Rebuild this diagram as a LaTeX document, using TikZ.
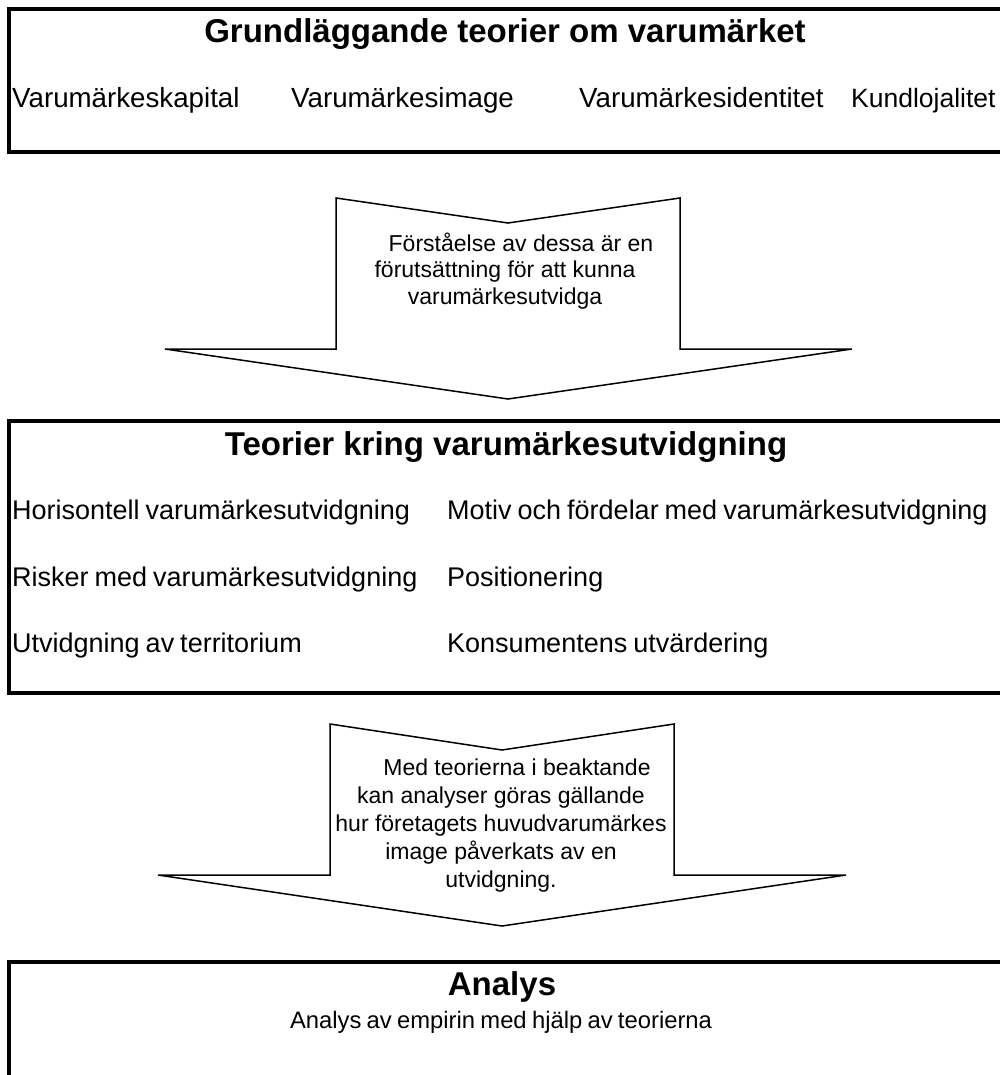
\documentclass[tikz,border=0pt]{standalone}
\usepackage{fontspec}
\setmainfont{Liberation Sans}
\newfontfamily\tightsans[WordSpace=0.8]{Liberation Sans}
\begin{document}
\begin{tikzpicture}[x=1pt, y=-1pt, every node/.style={inner sep=0pt},
  frame/.style={line width=4pt},
  bigarrow/.style={line width=1.5pt, line join=miter},
  head/.style={font=\fontsize{33}{38}\selectfont\bfseries, anchor=base},
  item/.style={font=\tightsans\fontsize{27}{33}\selectfont, anchor=base west}]
  \useasboundingbox (0,0) rectangle (1000,1075);
  \clip (0,0) rectangle (1000,1075);
  % top box
  \draw[frame] (9,9) rectangle (1012,152);
  \node[head] (grund) at (505,43) {Grundläggande teorier om varumärket};
  \node[item, font=\tightsans\fontsize{27.7}{33}\selectfont] (kapital) at (12,108) {Varumärkeskapital};
  \node[item, font=\tightsans\fontsize{27.7}{33}\selectfont] (image) at (291,108) {Varumärkesimage};
  \node[item, font=\tightsans\fontsize{27.7}{33}\selectfont] (identitet) at (579,108) {Varumärkesidentitet};
  \node[item, font=\tightsans\fontsize{26.5}{33}\selectfont] (lojalitet) at (851,108) {Kundlojalitet};
  % first arrow
  \draw[bigarrow] (336,198) -- (508,223) -- (680,198) -- (680,349) -- (852,349)
    -- (508,399) -- (165,349) -- (336,349) -- cycle;
  \node[font=\fontsize{23}{26.5}\selectfont, align=center] (forst) at (505,271)
    {\hspace*{32pt}Förståelse av dessa är en\\förutsättning för att kunna\\varumärkesutvidga};
  % middle box
  \draw[frame] (9,421) rectangle (1012,693);
  \node[head] (teorier) at (506,455) {Teorier kring varumärkesutvidgning};
  \node[item] (horis) at (12,519) {Horisontell varumärkesutvidgning};
  \node[item] (risker) at (12,586) {Risker med varumärkesutvidgning};
  \node[item] (territ) at (12,652) {Utvidgning av territorium};
  \node[item] (motiv) at (447,519) {Motiv och fördelar med varumärkesutvidgning};
  \node[item] (posit) at (447,586) {Positionering};
  \node[item] (konsum) at (447,652) {Konsumentens utvärdering};
  % second arrow
  \draw[bigarrow] (330,724) -- (502,750) -- (674,724) -- (674,875) -- (846,875)
    -- (502,926) -- (158,875) -- (330,875) -- cycle;
  \node[font=\fontsize{23}{28}\selectfont, align=center] (medteori) at (501,826)
    {\hspace*{32pt}Med teorierna i beaktande\\kan analyser göras gällande\\hur företagets huvudvarumärkes\\image påverkats av en\\utvidgning.};
  % bottom box
  \draw[frame] (9,962) rectangle (1012,1090);
  \node[head] (analys) at (502,995) {Analys};
  \node[font=\tightsans\fontsize{23.8}{28}\selectfont, anchor=base] (empiri) at (501,1028)
    {Analys av empirin med hjälp av teorierna};
\end{tikzpicture}
\end{document}
